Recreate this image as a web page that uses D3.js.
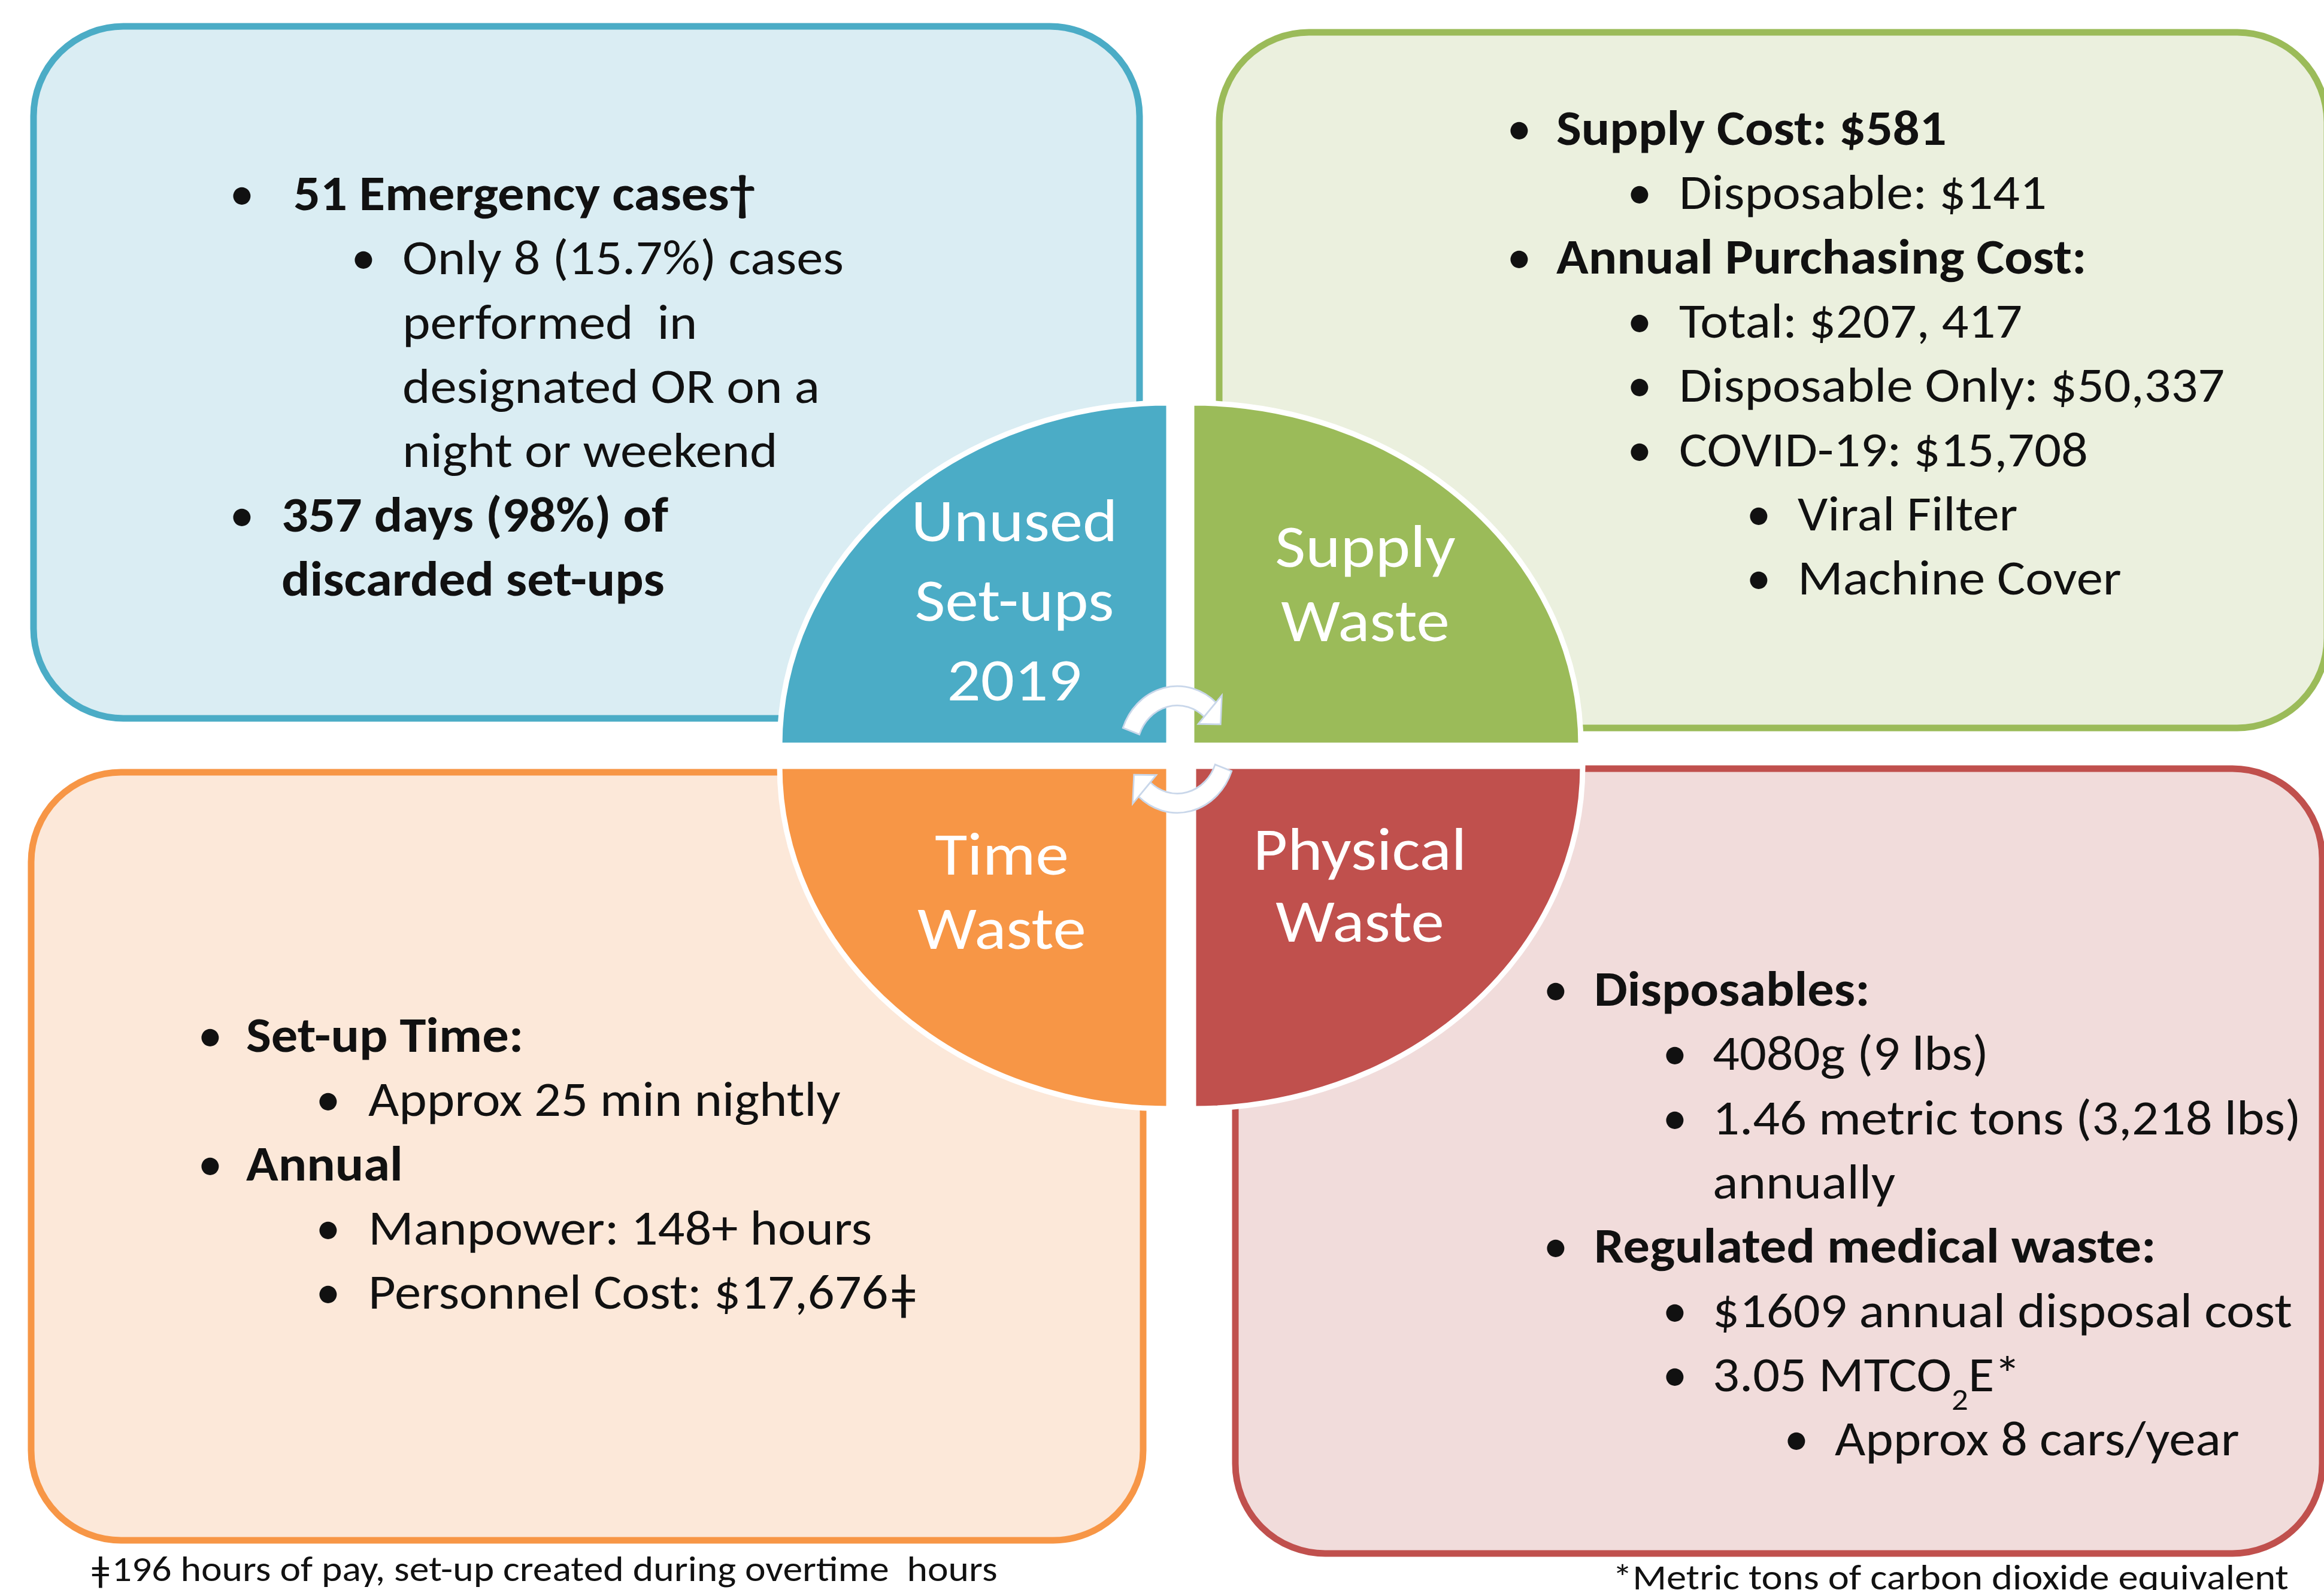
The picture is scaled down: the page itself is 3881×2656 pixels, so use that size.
<!DOCTYPE html>
<html>
<head>
<meta charset="utf-8">
<script src="https://cdn.jsdelivr.net/npm/d3@7"></script>
<style>
  body { margin: 0; background: #fff; }
  svg { display: block; }
</style>
</head>
<body>
<div id="chart"></div>
<script>
// quadrant titles, clockwise from top-left
const quadrantLabels = [
    ["Unused", "Set-ups", "2019"],
    ["Supply", "Waste"],
    ["Physical", "Waste"],
    ["Time", "Waste"]
];

// bullet lists: [level, text, bold, hasBullet]
const unusedItems = [
    [1, "\u00a051 Emergency cases†", true, true],
    [2, "Only 8 (15.7%) cases", false, true],
    [2, "performed  in", false, false],
    [2, "designated OR on a", false, false],
    [2, "night or weekend", false, false],
    [1, "357 days (98%) of", true, true],
    [1, "discarded set-ups", true, false]
];
const supplyItems = [
    [1, "Supply Cost: $581", true, true],
    [2, "Disposable: $141", false, true],
    [1, "Annual Purchasing Cost:", true, true],
    [2, "Total: $207, 417", false, true],
    [2, "Disposable Only: $50,337", false, true],
    [2, "COVID-19: $15,708", false, true],
    [3, "Viral Filter", false, true],
    [3, "Machine Cover", false, true]
];
const physicalItems = [
    [1, "Disposables:", true, true],
    [2, "4080g (9 lbs)", false, true],
    [2, "1.46 metric tons (3,218 lbs)", false, true],
    [2, "annually", false, false],
    [1, "Regulated medical waste:", true, true],
    [2, "$1609 annual disposal cost", false, true],
    [2, "3.05 MTCO_2E*", false, true],
    [3, "Approx 8 cars/year", false, true]
];
const timeItems = [
    [1, "Set-up Time:", true, true],
    [2, "Approx 25 min nightly", false, true],
    [1, "Annual", true, true],
    [2, "Manpower: 148+ hours", false, true],
    [2, "Personnel Cost: $17,676ǂ", false, true]
];
const footnotes = [
    "ǂ196 hours of pay, set-up created during overtime  hours",
    "*Metric tons of carbon dioxide equivalent"
];

const W = 3881, H = 2656;
const colors = ["#4bacc6", "#9bbb59", "#c0504d", "#f79646"];
const fills = ["#daedf3", "#ebf0de", "#f1dcdb", "#fce8d9"];
const bodySize = 82, labelSize = 100, noteSize = 60, lineStep = 107.3;
const stretch = 1.08, labelStretch = 1.11, noteStretch = [1.095, 1.11];

// layout, same order as the data
const panels = [
    {box: [56, 44, 1847, 1156], items: unusedItems, y0: 351,
     bulletX: [404, 607], textX: [470, 672],
     corner: [1952, 1245], a: [-Math.PI / 2, 0], label: [1694, 904, 133]},
    {box: [2036, 54, 1850, 1162], items: supplyItems, y0: 242,
     bulletX: [2537, 2738, 2937], textX: [2599, 2804, 3002],
     corner: [1990, 1245], a: [0, Math.PI / 2], label: [2280, 947, 124]},
    {box: [2063, 1284, 1815, 1311], items: physicalItems, y0: 1680,
     bulletX: [2598, 2797, 3000], textX: [2662, 2860, 3064],
     corner: [1993, 1280], a: [Math.PI / 2, Math.PI], label: [2271, 1453, 120]},
    {box: [52, 1290, 1857, 1283], items: timeItems, y0: 1757,
     bulletX: [351, 548], textX: [411, 615],
     corner: [1952, 1280], a: [Math.PI, 1.5 * Math.PI], label: [1673, 1461, 124]}
];

const svg = d3.select("#chart").append("svg")
    .attr("width", W)
    .attr("height", H)
    .style("font-family", "Carlito, Calibri, Lato, sans-serif");

svg.append("rect").attr("width", W).attr("height", H).attr("fill", "#fff");

// rounded boxes
svg.selectAll(".box")
    .data(panels)
    .join("rect")
    .attr("class", "box")
    .attr("x", d => d.box[0])
    .attr("y", d => d.box[1])
    .attr("width", d => d.box[2])
    .attr("height", d => d.box[3])
    .attr("rx", 150)
    .attr("fill", (d, i) => fills[i])
    .attr("stroke", (d, i) => colors[i])
    .attr("stroke-width", 11);

// bullet text in the boxes
function drawList(p) {
    const g = svg.append("g").attr("fill", "#111");
    p.items.forEach((d, i) => {
        const lvl = d[0] - 1;
        const y = p.y0 + i * lineStep;
        if (d[3]) {
            g.append("text")
                .attr("x", p.bulletX[lvl])
                .attr("y", y)
                .attr("text-anchor", "middle")
                .attr("font-size", bodySize)
                .text("•");
        }
        // Calibri-ish proportions: Lato stretched a little sideways
        const t = g.append("text")
            .attr("transform", `translate(${p.textX[lvl]},${y}) scale(${stretch},1)`)
            .attr("font-size", bodySize)
            .attr("font-weight", d[2] ? "bold" : "normal")
            .style("white-space", "pre");
        // "_" marks a subscript character
        const parts = d[1].split("_");
        t.append("tspan").text(parts[0]);
        for (let k = 1; k < parts.length; k++) {
            t.append("tspan")
                .attr("font-size", bodySize * 0.62)
                .attr("baseline-shift", "sub")
                .text(parts[k][0]);
            t.append("tspan").text(parts[k].slice(1));
        }
    });
}
panels.forEach(drawList);

// the four quadrants of the centre disc
const rx = 650, ry = 572;
const arc = d3.arc().innerRadius(0).outerRadius(1);
svg.selectAll(".quad")
    .data(panels)
    .join("path")
    .attr("class", "quad")
    .attr("transform", d => `translate(${d.corner[0]},${d.corner[1]}) scale(${rx},${ry})`)
    .attr("d", d => arc({startAngle: d.a[0], endAngle: d.a[1]}))
    .attr("fill", (d, i) => colors[i])
    .attr("stroke", "#fff")
    .attr("stroke-width", 9)
    .attr("vector-effect", "non-scaling-stroke");

// quadrant titles
panels.forEach((p, i) => {
    svg.append("g")
        .selectAll("text")
        .data(quadrantLabels[i])
        .join("text")
        .attr("transform", (d, k) => `translate(${p.label[0]},${p.label[1] + k * p.label[2]}) scale(${labelStretch},1)`)
        .attr("text-anchor", "middle")
        .attr("font-size", labelSize)
        .attr("fill", "#fff")
        .text(d => d);
});

// circular arrows in the middle
const arrowG = svg.append("g").attr("transform", "translate(1966,1252) scale(1.05,1.15)");
const ringArc = d3.arc().innerRadius(64).outerRadius(92);
const rad = Math.PI / 180;
const pt = (a, r) => [r * Math.sin(a), -r * Math.cos(a)];
[[-70, 42], [110, 222]].forEach(s => {
    arrowG.append("path")
        .attr("d", ringArc({startAngle: s[0] * rad, endAngle: s[1] * rad}))
        .attr("fill", "#fff")
        .attr("stroke", "#c9d7ea")
        .attr("stroke-width", 2.5);
    const a = s[1] * rad, tip = (s[1] + 20) * rad;
    arrowG.append("path")
        .attr("d", d3.line()([pt(a, 50), pt(a, 106), pt(tip, 78)]) + "Z")
        .attr("fill", "#fff")
        .attr("stroke", "#c9d7ea")
        .attr("stroke-width", 2.5);
});

// footnotes (cut by the bottom edge, as in the original)
[[149, 2641], [2693, 2655]].forEach((pos, i) => {
    svg.append("text")
        .attr("transform", `translate(${pos[0]},${pos[1]}) scale(${noteStretch[i]},1)`)
        .attr("font-size", noteSize)
        .attr("fill", "#111")
        .style("white-space", "pre")
        .text(footnotes[i]);
});
</script>
</body>
</html>
